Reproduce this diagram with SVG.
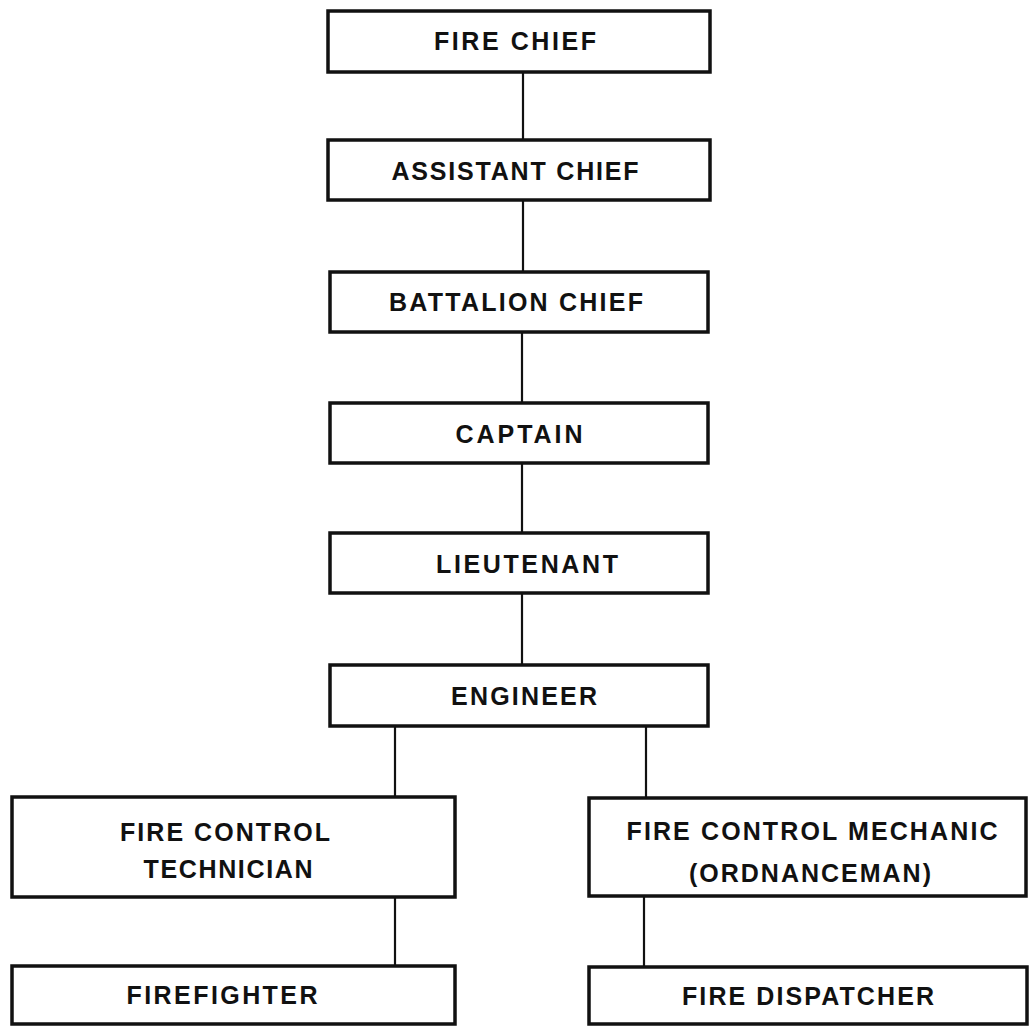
<svg xmlns="http://www.w3.org/2000/svg" width="1035" height="1028" viewBox="0 0 1035 1028">
<style>
.box{fill:#fff;stroke:#111;stroke-width:3.5}
.lbl{font-family:"Liberation Sans",Arial,sans-serif;font-weight:700;font-size:25px;fill:#111;text-anchor:middle}
.con{stroke:#111;stroke-width:2.2;fill:none}
</style>
<rect width="1035" height="1028" fill="#fff"/>
<g id="connectors">
<line class="con" x1="523" y1="72" x2="523" y2="140"/>
<line class="con" x1="523" y1="200" x2="523" y2="272"/>
<line class="con" x1="522" y1="332" x2="522" y2="403"/>
<line class="con" x1="522" y1="463" x2="522" y2="533"/>
<line class="con" x1="522" y1="593" x2="522" y2="665"/>
<line class="con" x1="395" y1="726" x2="395" y2="797"/>
<line class="con" x1="646" y1="726" x2="646" y2="798"/>
<line class="con" x1="395" y1="897" x2="395" y2="966"/>
<line class="con" x1="644" y1="896" x2="644" y2="967"/>
</g>
<g id="fire-chief"><rect class="box" x="328" y="11" width="382" height="61"/><text class="lbl" x="515" y="50" textLength="162" lengthAdjust="spacing">FIRE CHIEF</text></g>
<g id="assistant-chief"><rect class="box" x="328" y="140" width="382" height="60"/><text class="lbl" x="515" y="180" textLength="247" lengthAdjust="spacing">ASSISTANT CHIEF</text></g>
<g id="battalion-chief"><rect class="box" x="330" y="272" width="378" height="60"/><text class="lbl" x="516" y="311" textLength="254" lengthAdjust="spacing">BATTALION CHIEF</text></g>
<g id="captain"><rect class="box" x="330" y="403" width="378" height="60"/><text class="lbl" x="519" y="443" textLength="127" lengthAdjust="spacing">CAPTAIN</text></g>
<g id="lieutenant"><rect class="box" x="330" y="533" width="378" height="60"/><text class="lbl" x="527" y="573" textLength="182" lengthAdjust="spacing">LIEUTENANT</text></g>
<g id="engineer"><rect class="box" x="330" y="665" width="378" height="61"/><text class="lbl" x="524" y="705" textLength="146" lengthAdjust="spacing">ENGINEER</text></g>
<g id="fire-control-technician"><rect class="box" x="12" y="797" width="443" height="100"/><text class="lbl" x="225" y="841" textLength="210" lengthAdjust="spacing">FIRE CONTROL</text><text class="lbl" x="228" y="878" textLength="169" lengthAdjust="spacing">TECHNICIAN</text></g>
<g id="fire-control-mechanic"><rect class="box" x="589" y="798" width="437" height="98"/><text class="lbl" x="812" y="840" textLength="371" lengthAdjust="spacing">FIRE CONTROL MECHANIC</text><text class="lbl" x="810" y="882" textLength="242" lengthAdjust="spacing">(ORDNANCEMAN)</text></g>
<g id="firefighter"><rect class="box" x="12" y="966" width="443" height="58"/><text class="lbl" x="222" y="1004" textLength="191" lengthAdjust="spacing">FIREFIGHTER</text></g>
<g id="fire-dispatcher"><rect class="box" x="589" y="967" width="438" height="57"/><text class="lbl" x="808" y="1005" textLength="252" lengthAdjust="spacing">FIRE DISPATCHER</text></g>
</svg>
